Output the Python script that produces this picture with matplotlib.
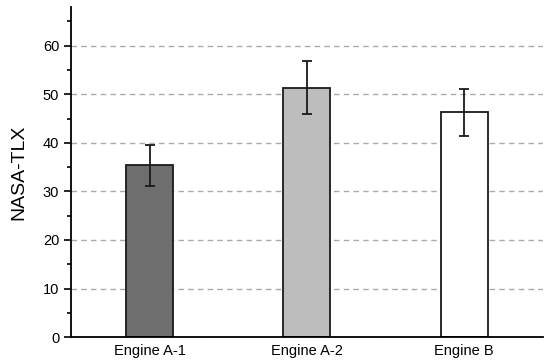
import matplotlib
matplotlib.use("Agg")
from matplotlib import pyplot as plt
from matplotlib.ticker import MultipleLocator
import numpy as np

## values
engines = ["Engine A-1", "Engine A-2", "Engine B"]
tlx_mean = [35.4, 51.4, 46.3]
tlx_err = [4.2, 5.5, 4.85]
bar_colors = ["#6e6e6e", "#bdbdbd", "#ffffff"]

plt.rcParams['font.family'] = ['Liberation Sans', 'DejaVu Sans']

fig = plt.figure(figsize=(5.5, 3.64), dpi=100)
ax = fig.add_axes([0.129, 0.074, 0.858, 0.907])

x = np.arange(1, len(engines) + 1)
ax.bar(x, tlx_mean, width=0.3, color=bar_colors, edgecolor="#1a1a1a",
       linewidth=1.3, zorder=2)
ax.errorbar(x, tlx_mean, yerr=tlx_err, fmt="none", ecolor="#1a1a1a",
            elinewidth=1.3, capsize=3.5, capthick=1.3, zorder=3)

ax.set_xlim(0.5, 3.5)
ax.set_ylim(0, 68)
ax.set_xticks(x)
ax.set_xticklabels(engines, fontsize=10.5)
ax.yaxis.set_major_locator(MultipleLocator(10))
ax.yaxis.set_minor_locator(MultipleLocator(5))
ax.tick_params(axis="y", which="major", direction="out", length=5, width=1.2, labelsize=10.5)
ax.tick_params(axis="y", which="minor", direction="out", length=3, width=1.2)
ax.tick_params(axis="x", length=0, pad=5)
ax.set_ylabel("NASA-TLX", fontsize=14, labelpad=11)

ax.grid(axis="y", linestyle=(0, (4, 3)), color="#aaaaaa", linewidth=1, zorder=0)
ax.set_axisbelow(True)
for s in ["top", "right"]:
    ax.spines[s].set_visible(False)
ax.spines["left"].set_linewidth(1.3)
ax.spines["bottom"].set_linewidth(1.3)

fig.savefig("out.png", dpi=100)
